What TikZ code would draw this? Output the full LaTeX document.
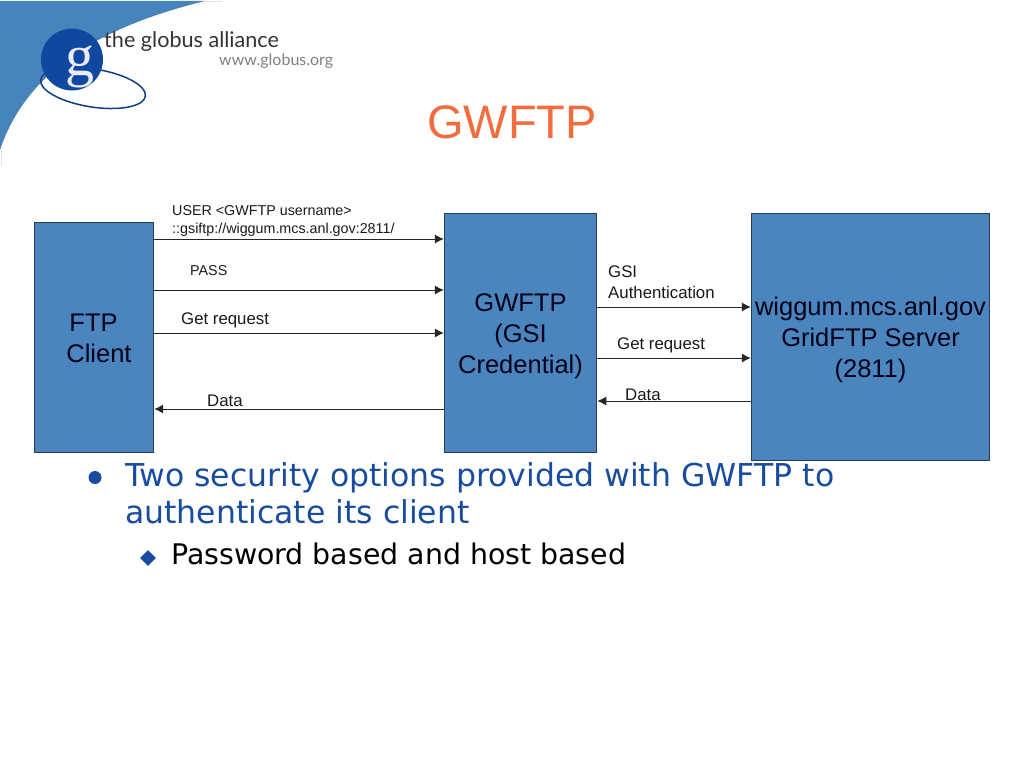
\documentclass[tikz,border=0pt]{standalone}
\usepackage{fontspec}
\usepackage{xcolor}
\setmainfont{Liberation Sans}
\newfontfamily\bulletfont{DejaVu Sans}
\newfontfamily\logofont{Lato}
\newfontfamily\logoserif{Liberation Serif}
\usetikzlibrary{arrows.meta, positioning, shapes.geometric}
\definecolor{boxblue}{RGB}{74,134,189}
\definecolor{boxline}{RGB}{38,60,84}
\definecolor{swooshblue}{RGB}{72,132,188}
\definecolor{globedark}{RGB}{16,72,160}
\definecolor{titleorange}{RGB}{243,108,61}
\definecolor{bulletblue}{RGB}{24,76,160}
\tikzset{
    serverbox/.style={draw=boxline, fill=boxblue, line width=0.9pt, inner sep=0pt},
    boxtext/.style={font=\fontsize{25.5}{31}\selectfont, align=center, text=black!90!blue},
    flow/.style={line width=1pt, color=black!85, -{Latex[length=9pt,width=9pt]}},
    lab/.style={font=\fontsize{16.8}{21}\selectfont, align=left, inner sep=0pt, anchor=west, text=black!90},
    smalllab/.style={font=\fontsize{14.3}{18}\selectfont, align=left, inner sep=0pt, anchor=west, text=black!90}
}
\begin{document}
\begin{tikzpicture}[x=1pt, y=-1pt]
    \useasboundingbox (0,0) rectangle (1024,768);
    
    % Corner swoosh
    \fill[swooshblue] (0,1) -- (205,1) .. controls (120,22) and (30,60) .. (0,150) -- cycle;
    \draw[black!12, line width=0.8pt] (205,1) -- (222,1);
    \draw[black!12, line width=0.8pt] (1,150) -- (1,166);
    
    % Logo
    \draw[globedark!85!black, line width=1.5pt, rotate around={-9:(93,88)}] (93,88) ellipse (53pt and 19pt);
    \node[circle, fill=globedark, minimum size=62pt, inner sep=0pt] (globe) at (72,59.5) {};
    \node[font=\fontsize{58}{58}\logoserif\selectfont, text=white!92!blue, inner sep=0pt] (letterg) at (80,67) {g};
    \node[font=\fontsize{21.6}{25}\logofont\selectfont, text=black!80, inner sep=0pt, anchor=base west] (alliance) at (104,48) {the globus alliance};
    \node[font=\fontsize{16}{18}\logofont\selectfont, text=black!50, inner sep=0pt, anchor=base west] (website) at (219,66) {www.globus.org};
    
    % Title
    \node[font=\fontsize{47}{47}\selectfont, text=titleorange] (title) at (512,122) {GWFTP};
    
    % Boxes
    \node[serverbox, minimum width=119.5pt, minimum height=230pt] (ftp) at (94,337) {};
    \node[serverbox, minimum width=152.5pt, minimum height=239pt] (gwftp) at (520.6,332.5) {};
    \node[serverbox, minimum width=238.5pt, minimum height=247pt] (server) at (870.6,336.5) {};
    \node[boxtext] (ftptext) at (96,338.5) {FTP\hspace*{5pt}\\\hspace*{6pt}Client};
    \node[boxtext] (gwftptext) at (520.5,336) {GWFTP\\(GSI\\Credential)};
    \node[boxtext] (servertext) at (870.5,339.5) {wiggum.mcs.anl.gov\\GridFTP Server\\(2811)};
    
    % Client side
    \draw[flow] (ftp.east |- 0,239) -- (gwftp.west |- 0,239);
    \draw[flow] (ftp.east |- 0,290) -- (gwftp.west |- 0,290);
    \draw[flow] (ftp.east |- 0,333) -- (gwftp.west |- 0,333);
    \draw[flow] (gwftp.west |- 0,409) -- (ftp.east |- 0,409);
    \node[smalllab] (user) at (172,221) {USER <GWFTP username>\\::gsiftp://wiggum.mcs.anl.gov:2811/};
    \node[smalllab] (pass) at (190,271) {PASS};
    \node[lab] (getleft) at (181,320) {Get request};
    \node[lab] (dataleft) at (207,400.5) {Data};
    
    % Server side
    \draw[flow] (gwftp.east |- 0,307) -- (server.west |- 0,307);
    \draw[flow] (gwftp.east |- 0,358) -- (server.west |- 0,358);
    \draw[flow] (server.west |- 0,401) -- (gwftp.east |- 0,401);
    \node[lab] (gsi) at (608,282) {GSI\\Authentication};
    \node[lab] (getright) at (617,345) {Get request};
    \node[lab] (dataright) at (625,395) {Data};
    
    % Bullets
    \node[circle, fill=bulletblue, minimum size=13pt, inner sep=0pt] (dotone) at (95,477.5) {};
    \node[font=\fontsize{31.5}{37.5}\bulletfont\selectfont, text=bulletblue, align=left, inner sep=0pt, anchor=north west] (pointone) at (125,462) {Two security options provided with GWFTP to\\authenticate its client};
    \node[diamond, fill=bulletblue, minimum size=16pt, inner sep=0pt] (dottwo) at (148,558) {};
    \node[font=\fontsize{28.4}{32}\bulletfont\selectfont, text=black, inner sep=0pt, anchor=base west] (pointtwo) at (171,564) {Password based and host based};
\end{tikzpicture}
\end{document}
